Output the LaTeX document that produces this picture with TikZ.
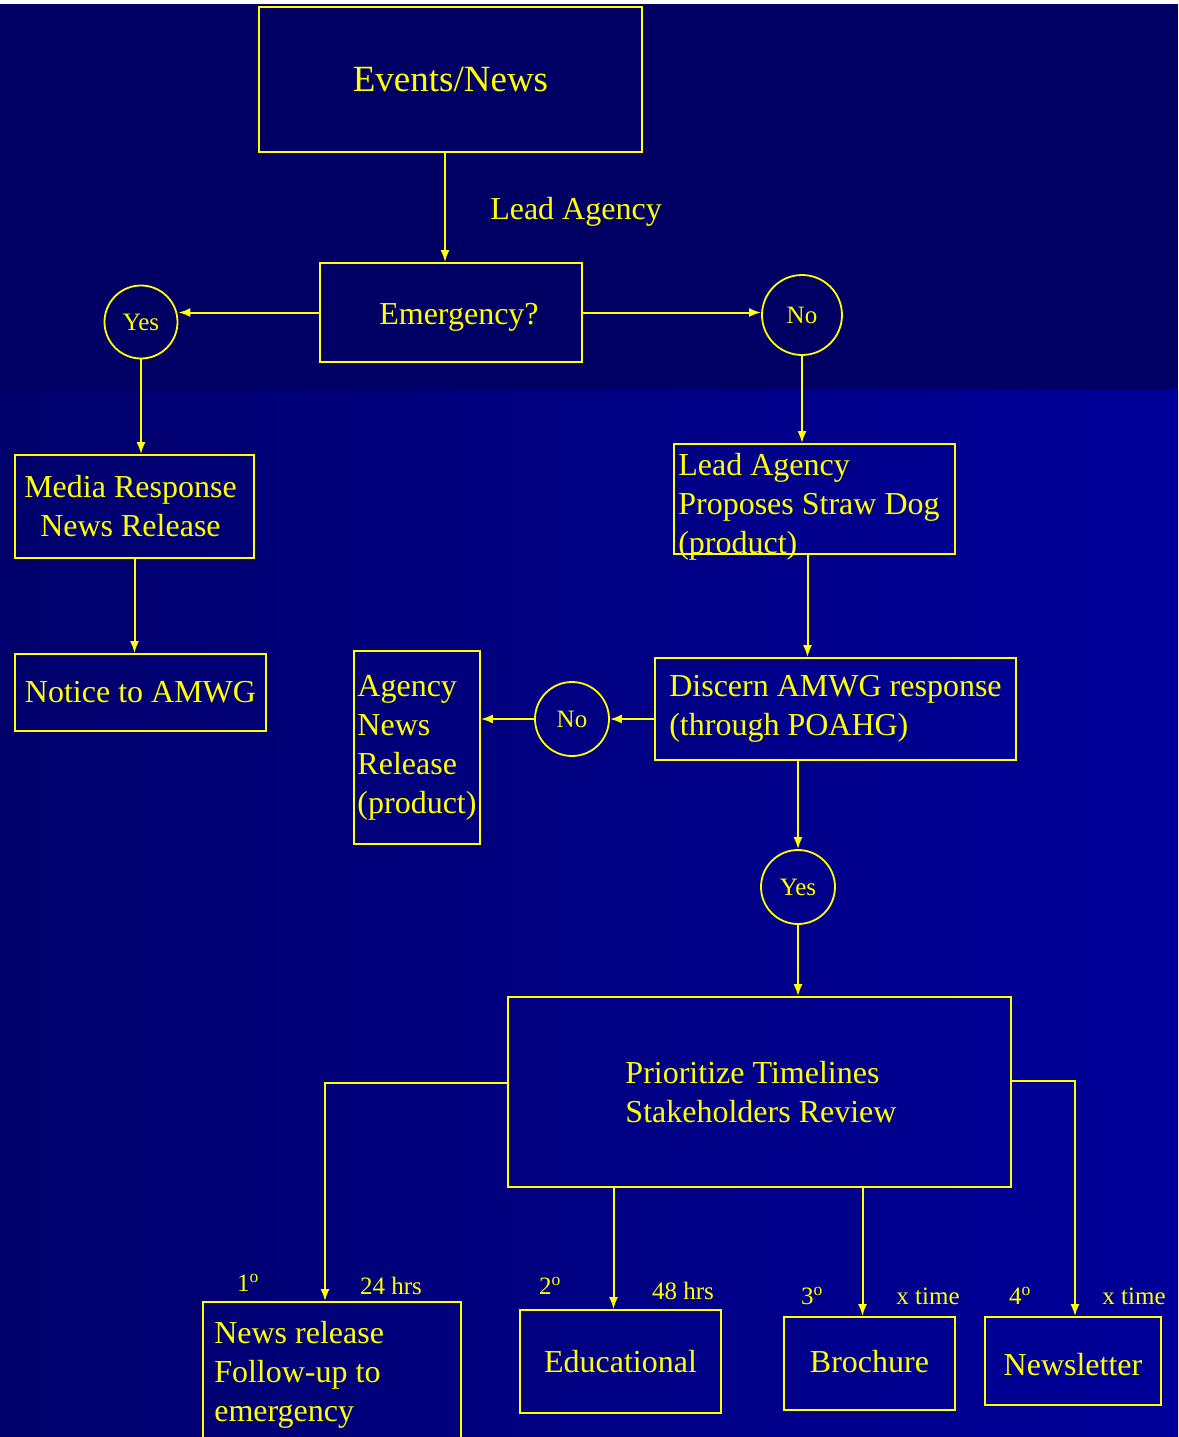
\documentclass[tikz,border=0pt]{standalone}
\usepackage{fontspec}
\setmainfont{Liberation Serif}
\usetikzlibrary{arrows.meta}
\definecolor{bgtop}{RGB}{0,0,100}
\definecolor{bgleft}{RGB}{0,0,108}
\definecolor{bgright}{RGB}{0,0,153}
\definecolor{ylw}{RGB}{255,255,0}
\begin{document}
\begin{tikzpicture}[x = 1pt, y = -1pt,
  box/.style = {draw = ylw, line width = 1.8pt, text = ylw, inner sep = 0pt,
                font = \fontsize{32}{39}\selectfont},
  boxtext/.style = {text = ylw, inner sep = 0pt, align = left,
                    font = \fontsize{32}{39}\selectfont},
  ring/.style = {draw = ylw, circle, line width = 1.8pt, text = ylw, inner sep = 0pt,
                 font = \fontsize{25}{30}\selectfont},
  tag/.style = {text = ylw, inner sep = 0pt, font = \fontsize{25}{30}\selectfont},
  arr/.style = {draw = ylw, line width = 2pt, -{Latex[length = 12pt, width = 9pt]}}]
\useasboundingbox (0, 0) rectangle (1178, 1437);
\fill[white] (0, 0) rectangle (1178, 4);
\fill[bgtop] (0, 4) rectangle (1178, 390);
\shade[left color = bgleft, right color = bgright] (0, 390) rectangle (1178, 1437);
% top of the chart
\node[box, minimum width = 383pt, minimum height = 145pt,
      font = \fontsize{37}{44}\selectfont] (ev) at (450.5, 79.5) {Events/News};
\node[box, minimum width = 262pt, minimum height = 99pt] (em) at (451, 312.5)
      {\hspace{16pt}\raisebox{-5pt}[\height][\depth]{Emergency?}};
\node[boxtext] (lbl) at (576, 212) {Lead Agency};
\node[ring, minimum size = 73pt] (yesA) at (141, 322) {Yes};
\node[ring, minimum size = 80pt] (noA) at (802, 315) {No};
% emergency branch
\node[box, minimum width = 239pt, minimum height = 103pt, align = center] (media) at (134.5, 506.5)
      {Media Response\hspace*{8pt}\\News Release\hspace*{8pt}};
\node[box, minimum width = 251pt, minimum height = 77pt] (notice) at (140.5, 692.5) {Notice to AMWG};
% normal branch
\node[box, minimum width = 281pt, minimum height = 110pt] (lead) at (814.5, 499) {};
\node[boxtext, anchor = north west] (leadtxt) at ([xshift = 5pt, yshift = -10pt]lead.north west)
      {Lead Agency\\Proposes Straw Dog\\(product)};
\node[box, minimum width = 361pt, minimum height = 102pt, align = left] (disc) at (835.5, 709)
      {Discern AMWG response\\(through POAHG)};
\node[ring, minimum size = 74pt] (noB) at (572, 719) {No};
\node[box, minimum width = 126pt, minimum height = 193pt, align = left] (agency) at (417, 747.5)
      {Agency\\News\\Release\\(product)};
\node[ring, minimum size = 74pt] (yesB) at (798, 887) {Yes};
\node[box, minimum width = 503pt, minimum height = 190pt, align = left] (prio) at (759.5, 1092)
      {\hspace{3pt}Prioritize Timelines\\\hspace{3pt}Stakeholders Review};
% products
\node[box, minimum width = 258pt, minimum height = 138pt] (newsrel) at (332, 1371) {};
\node[boxtext, anchor = north west] (newsreltxt) at ([xshift = 12pt, yshift = -20pt]newsrel.north west)
      {News release\\Follow-up to\\emergency};
\node[box, minimum width = 201pt, minimum height = 103pt] (edu) at (620.5, 1361.5) {Educational};
\node[box, minimum width = 171pt, minimum height = 93pt] (broch) at (869.5, 1363.5)
      {\raisebox{2pt}[\height][\depth]{Brochure}};
\node[box, minimum width = 176pt, minimum height = 88pt] (newsl) at (1073, 1361)
      {\raisebox{-4pt}[\height][\depth]{Newsletter}};
\node[tag] (t1) at (248, 1283) {1\textsuperscript{o}};
\node[tag] (h24) at (391, 1286) {24 hrs};
\node[tag] (t2) at (550, 1286) {2\textsuperscript{o}};
\node[tag] (h48) at (683, 1291) {48 hrs};
\node[tag] (t3) at (812, 1296) {3\textsuperscript{o}};
\node[tag] (xt3) at (928, 1296) {x time};
\node[tag] (t4) at (1020, 1296) {4\textsuperscript{o}};
\node[tag] (xt4) at (1134, 1296) {x time};
% connectors
\draw[arr] ([xshift = -5.5pt]ev.south) -- ([xshift = -5.5pt]ev.south |- em.north);
\draw[arr] (em.west) -- (em.west -| yesA.east);
\draw[arr] (em.east) -- (em.east -| noA.west);
\draw[arr] (yesA.south) -- (yesA.south |- media.north);
\draw[arr] (media.south) -- (media.south |- notice.north);
\draw[arr] (noA.south) -- (noA.south |- lead.north);
\draw[arr] ([xshift = -7pt]lead.south) -- ([xshift = -7pt]lead.south |- disc.north);
\draw[arr] (disc.west |- noB) -- (noB.east);
\draw[arr] (noB.west) -- (noB.west -| agency.east);
\draw[arr] (disc.south -| yesB) -- (yesB.north);
\draw[arr] (yesB.south) -- (yesB.south |- prio.north);
\draw[arr] ([yshift = 9pt]prio.west) -| ([xshift = -7pt]newsrel.north);
\draw[arr] (prio.south -| edu.north) ++(-7, 0) -- ([xshift = -7pt]edu.north);
\draw[arr] (prio.south -| broch.north) ++(-7, 0) -- ([xshift = -7pt]broch.north);
\draw[arr] ([yshift = 11pt]prio.east) -| ([xshift = 2pt]newsl.north);
\end{tikzpicture}
\end{document}
